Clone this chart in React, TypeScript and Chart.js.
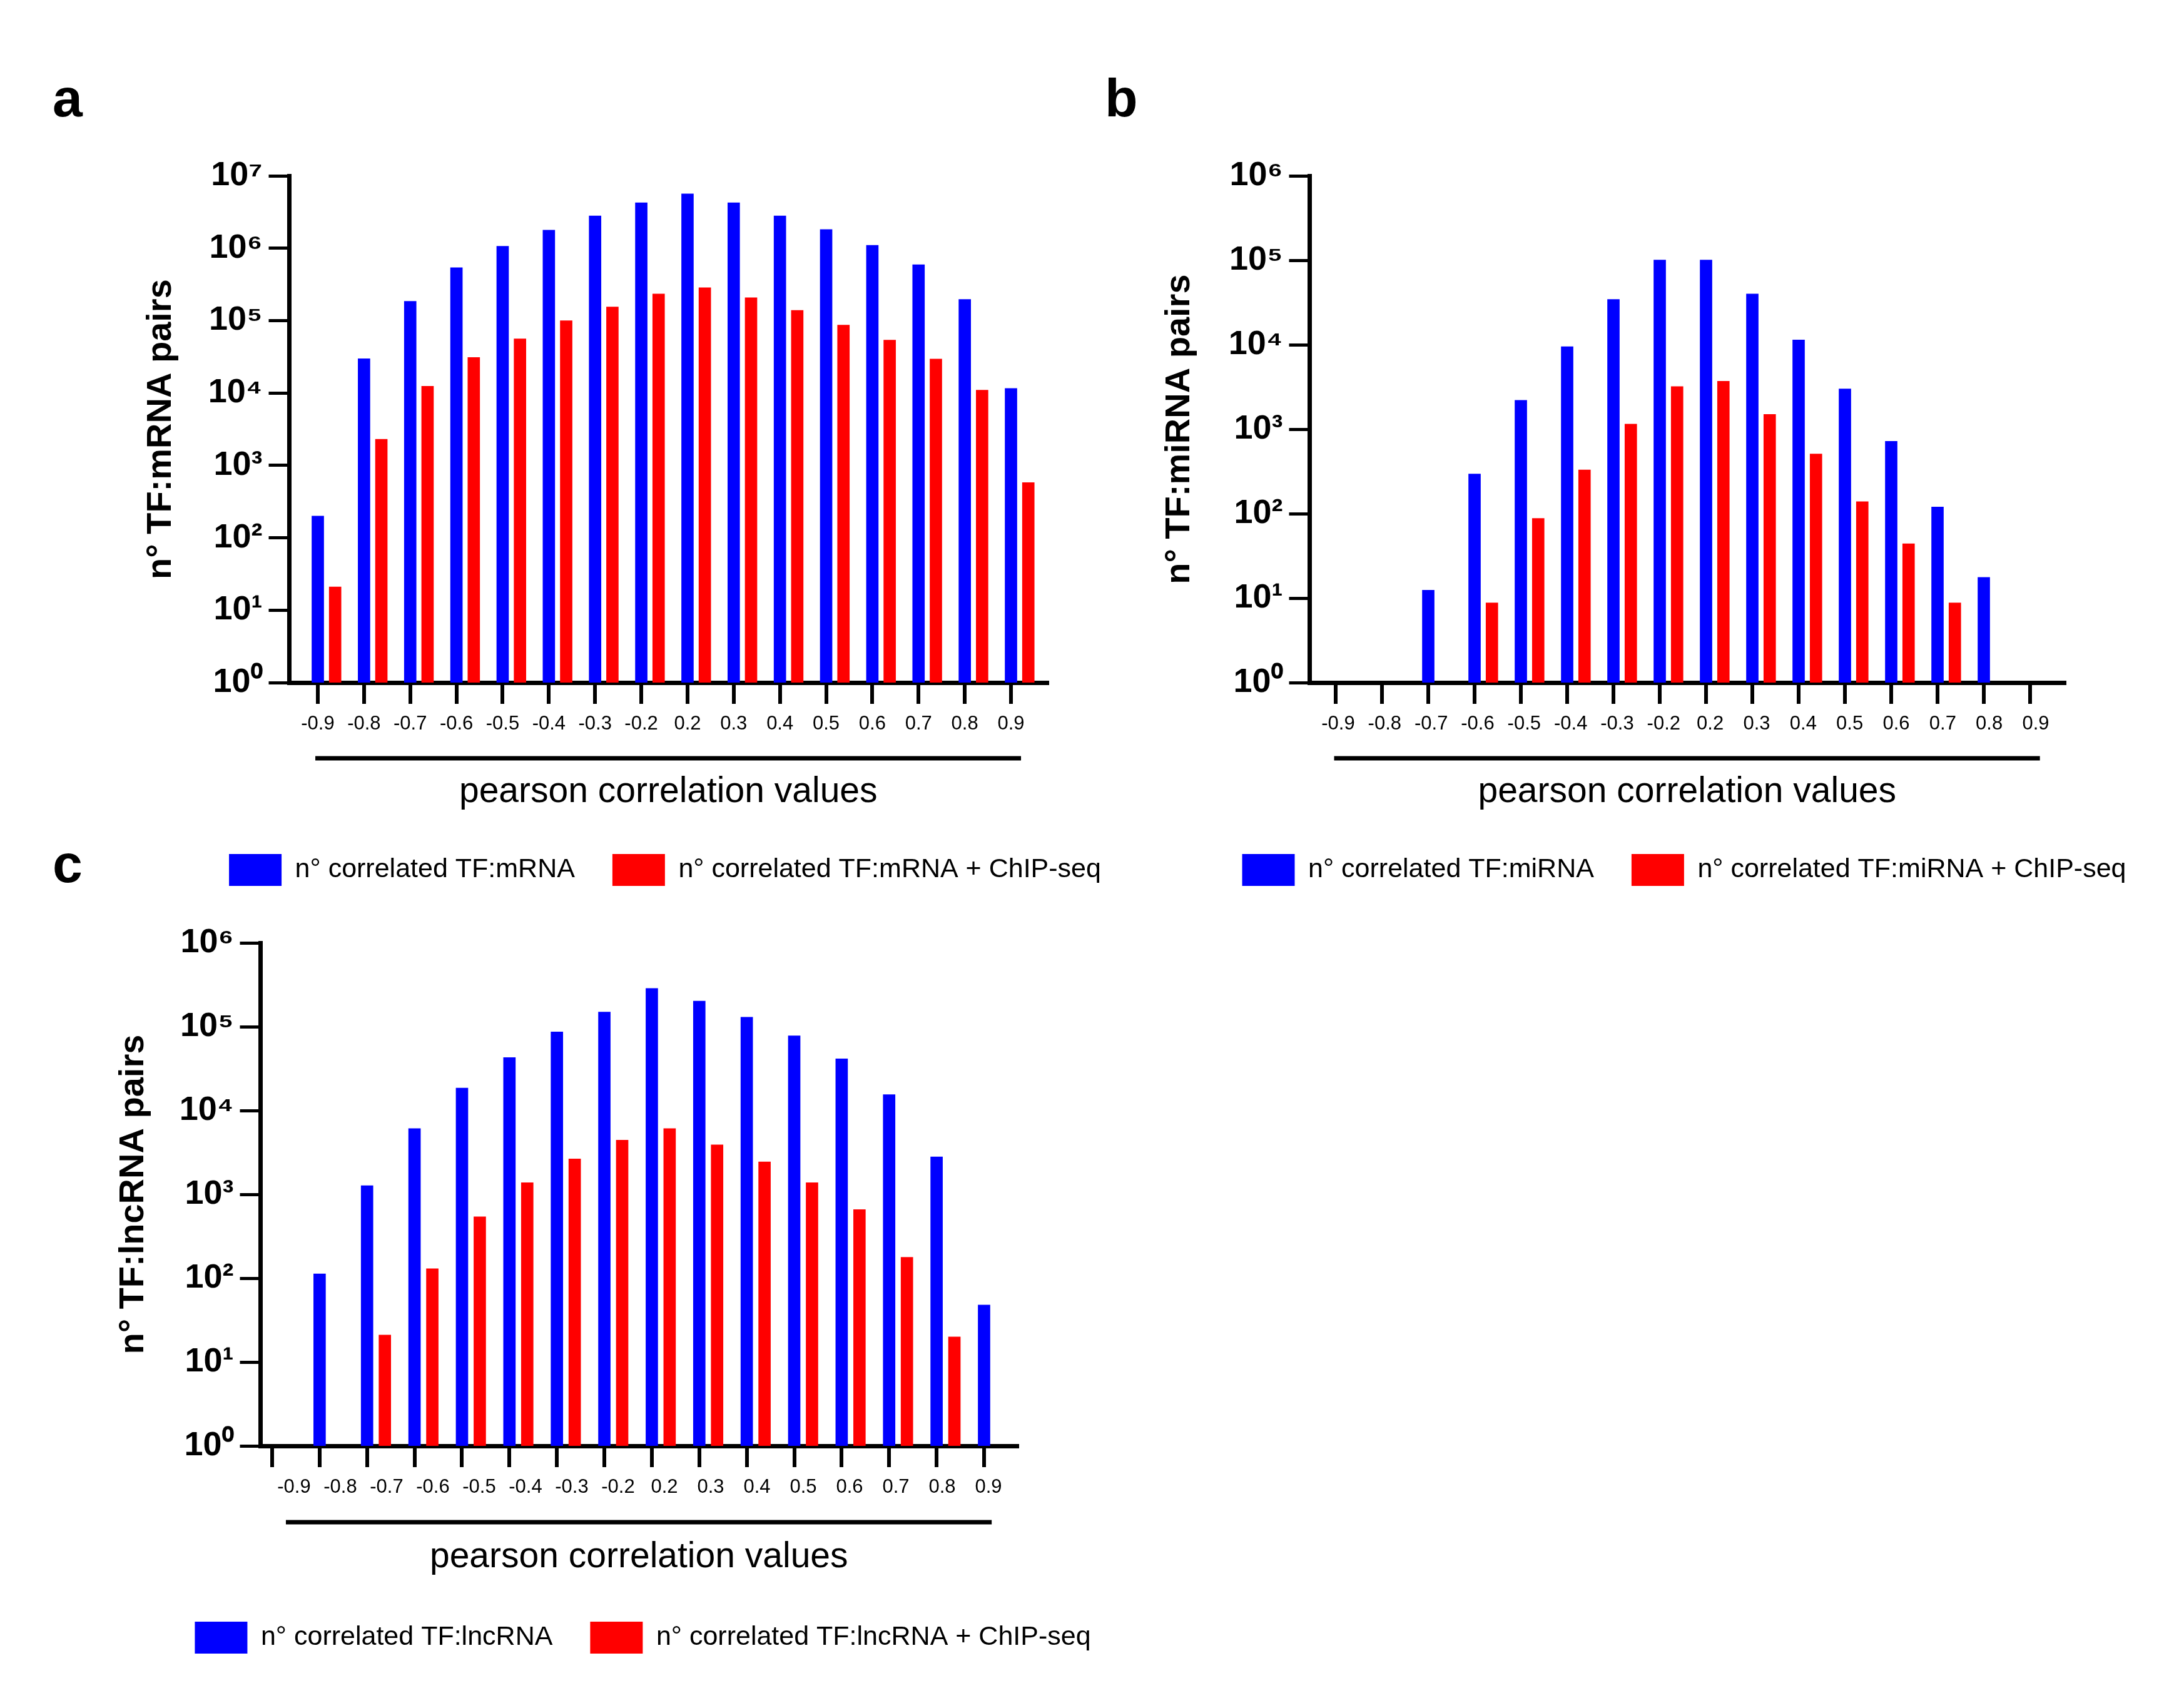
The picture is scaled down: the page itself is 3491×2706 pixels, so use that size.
import React, { useEffect, useRef } from 'react';
import { Chart, registerables } from 'chart.js';

Chart.register(...registerables);

// ---------- data ----------
const X_LABELS = ['-0.9', '-0.8', '-0.7', '-0.6', '-0.5', '-0.4', '-0.3', '-0.2', '0.2', '0.3', '0.4', '0.5', '0.6', '0.7', '0.8', '0.9'];

const A_BLUE = [200, 29900, 185000, 540000, 1070000, 1780000, 2800000, 4250000, 5650000, 4250000, 2800000, 1820000, 1100000, 595000, 197000, 11600];
const A_RED = [21, 2300, 12400, 31000, 56000, 100000, 155000, 234000, 285000, 208000, 139000, 87000, 54000, 29500, 11000, 580];

const B_BLUE = [null, null, 12.4, 295, 2200, 9500, 34500, 101000, 101000, 40000, 11400, 3000, 720, 120, 17.6, null];
const B_RED = [null, null, null, 8.8, 88, 330, 1150, 3200, 3700, 1500, 510, 139, 44, 8.8, null, null];

const C_BLUE = [null, 113, 1270, 6100, 18600, 43000, 87000, 150000, 287000, 203000, 130000, 78000, 41500, 15500, 2800, 48];
const C_RED = [null, null, 21, 130, 540, 1380, 2650, 4450, 6100, 3900, 2440, 1380, 660, 178, 20, null];

const A_Y_TICKS = [1, 10, 100, 1000, 10000, 100000, 1000000, 10000000];
const BC_Y_TICKS = [1, 10, 100, 1000, 10000, 100000, 1000000];

const X_TITLE = 'pearson correlation values';

// ---------- style ----------
const FONT = "'Liberation Sans', Arial, Helvetica, sans-serif";
const BLUE = '#0000FF';
const RED = '#FF0000';
const BLACK = '#000000';
const RED_SHIFT = 0.375;
const SUP: Record<string, string> = { '0': '\u2070', '1': '\u00B9', '2': '\u00B2', '3': '\u00B3', '4': '\u2074', '5': '\u2075', '6': '\u2076', '7': '\u2077', '8': '\u2078', '9': '\u2079' };

type PanelCfg = {
  letter: string; left: number; top: number; width: number; height: number;
  yTitle: string; blue: (number | null)[]; red: (number | null)[];
  blueLabel: string; redLabel: string; yTicks: number[];
  yAxisWidth: number; yTitlePad: number; rightWidth: number;
  xMin: number; xMax: number; lMin: number; lMax: number;
  titlePad: { top: number; bottom: number };
  xlHeight: number; xlTitlePadBottom: number;
  lineFrom: number; lineTo: number; lineOffset: number;
};

const PANELS: PanelCfg[] = [
  {
    letter: 'a', left: 84, top: 100, width: 1958, height: 1326,
    yTitle: 'n° TF:mRNA pairs', blue: A_BLUE, red: A_RED,
    blueLabel: 'n° correlated TF:mRNA', redLabel: 'n° correlated TF:mRNA + ChIP-seq', yTicks: A_Y_TICKS,
    yAxisWidth: 378.5, yTitlePad: 140, rightWidth: 368,
    xMin: -0.616, xMax: 15.785, lMin: -0.616, lMax: 15.785,
    titlePad: { top: 11, bottom: 67 }, xlHeight: 180, xlTitlePadBottom: 5,
    lineFrom: -0.054, lineTo: 15.217, lineOffset: 121,
  },
  {
    letter: 'b', left: 1766, top: 100, width: 1852, height: 1326,
    yTitle: 'n° TF:miRNA pairs', blue: B_BLUE, red: B_RED,
    blueLabel: 'n° correlated TF:miRNA', redLabel: 'n° correlated TF:miRNA + ChIP-seq', yTicks: BC_Y_TICKS,
    yAxisWidth: 327.5, yTitlePad: 86, rightWidth: 318,
    xMin: -0.561, xMax: 15.743, lMin: -0.612, lMax: 15.619,
    titlePad: { top: 11, bottom: 67 }, xlHeight: 180, xlTitlePadBottom: 5,
    lineFrom: -0.087, lineTo: 15.09, lineOffset: 121,
  },
  {
    letter: 'c', left: 84, top: 1330, width: 1887, height: 1323,
    yTitle: 'n° TF:lncRNA pairs', blue: C_BLUE, red: C_RED,
    blueLabel: 'n° correlated TF:lncRNA', redLabel: 'n° correlated TF:lncRNA + ChIP-seq', yTicks: BC_Y_TICKS,
    yAxisWidth: 332.5, yTitlePad: 96, rightWidth: 345,
    xMin: -0.244, xMax: 15.699, lMin: -0.723, lMax: 15.622,
    titlePad: { top: 5, bottom: 69 }, xlHeight: 187, xlTitlePadBottom: 9,
    lineFrom: -0.176, lineTo: 15.07, lineOffset: 122,
  },
];

const underlinePlugin = {
  id: 'underline',
  afterDraw(chart: any, _args: any, opts: any) {
    const xl = chart.scales.xl;
    const x = chart.scales.x;
    if (!xl || !x) return;
    const ctx = chart.ctx;
    const x1 = xl.getPixelForValue(opts.from);
    const x2 = xl.getPixelForValue(opts.to);
    const y = x.top + opts.offset;
    ctx.save();
    ctx.strokeStyle = BLACK;
    ctx.lineWidth = 7;
    ctx.beginPath();
    ctx.moveTo(x1, y);
    ctx.lineTo(x2, y);
    ctx.stroke();
    ctx.restore();
  },
};

function toPoints(values: (number | null)[], shift: number) {
  return values.flatMap((v, i) => (v == null ? [] : [{ x: i + shift, y: v }]));
}

function supExp(v: number) {
  const e = String(Math.round(Math.log10(v)));
  return '10' + e.split('').map((d) => SUP[d] || d).join('');
}

function buildConfig(p: PanelCfg): any {
  const labelTicks = X_LABELS.map((_, i) => ({ value: i }));
  return {
    type: 'bar',
    data: {
      datasets: [
        { label: p.blueLabel, data: toPoints(p.blue, 0), backgroundColor: BLUE, borderWidth: 0, grouped: false, barThickness: 19 },
        { label: p.redLabel, data: toPoints(p.red, RED_SHIFT), backgroundColor: RED, borderWidth: 0, grouped: false, barThickness: 19 },
      ],
    },
    options: {
      responsive: true,
      maintainAspectRatio: false,
      animation: false,
      events: [],
      layout: { padding: 0 },
      font: { family: FONT },
      plugins: {
        title: {
          display: true, text: p.letter, align: 'start', color: BLACK,
          font: { family: FONT, size: 86, weight: 'bold', lineHeight: 1.2 },
          padding: p.titlePad,
        },
        legend: {
          display: true, position: 'bottom', align: 'center',
          labels: { boxWidth: 84, boxHeight: 51, padding: 60, color: BLACK, font: { family: FONT, size: 43 } },
        },
        tooltip: { enabled: false },
        underline: { from: p.lineFrom, to: p.lineTo, offset: p.lineOffset },
      },
      scales: {
        y: {
          type: 'logarithmic', position: 'left', min: p.yTicks[0], max: p.yTicks[p.yTicks.length - 1], z: 1,
          afterBuildTicks: (s: any) => { s.ticks = p.yTicks.map((v) => ({ value: v })); },
          afterFit: (s: any) => { s.width = p.yAxisWidth; },
          ticks: { color: BLACK, padding: 10, font: { family: FONT, size: 54, weight: 'bold' }, callback: (v: any) => supExp(Number(v)) },
          grid: { display: true, drawOnChartArea: false, drawTicks: true, tickLength: 33, tickWidth: 5, tickColor: BLACK, color: BLACK },
          border: { display: true, width: 7, color: BLACK },
          title: { display: true, text: p.yTitle, color: BLACK, font: { family: FONT, size: 56, weight: 'bold', lineHeight: 1.2 }, padding: { top: p.yTitlePad, bottom: 0 } },
        },
        x: {
          type: 'linear', position: 'bottom', min: p.xMin, max: p.xMax, weight: 0, z: 1, offset: false,
          afterBuildTicks: (s: any) => { s.ticks = X_LABELS.map((_, i) => ({ value: i })); },
          afterFit: (s: any) => { s.height = 34; },
          ticks: { display: false },
          grid: { display: true, offset: false, drawOnChartArea: false, drawTicks: true, tickLength: 34, tickWidth: 6, lineWidth: 6, tickColor: BLACK, color: BLACK },
          border: { display: true, width: 7, color: BLACK },
        },
        xl: {
          type: 'linear', position: 'bottom', min: p.lMin, max: p.lMax, weight: 1, offset: false,
          afterBuildTicks: (s: any) => { s.ticks = labelTicks.map((t) => ({ ...t })); },
          afterFit: (s: any) => { s.height = p.xlHeight; },
          ticks: {
            display: true, autoSkip: false, maxRotation: 0, minRotation: 0, padding: 14, color: BLACK,
            font: { family: FONT, size: 31 },
            callback: (v: any) => X_LABELS[Math.round(Number(v))] ?? '',
          },
          grid: { display: false, drawTicks: false, offset: false },
          border: { display: false },
          title: { display: true, text: X_TITLE, color: BLACK, font: { family: FONT, size: 57, lineHeight: 1.2 }, padding: { top: 0, bottom: p.xlTitlePadBottom } },
        },
        yr: {
          type: 'linear', position: 'right', display: true,
          afterFit: (s: any) => { s.width = p.rightWidth; },
          ticks: { display: false },
          grid: { display: false, drawTicks: false },
          border: { display: false },
        },
      },
    },
    plugins: [underlinePlugin],
  };
}

function Panel({ cfg }: { cfg: PanelCfg }) {
  const ref = useRef<HTMLCanvasElement>(null);
  useEffect(() => {
    if (!ref.current) return;
    const chart = new Chart(ref.current, buildConfig(cfg));
    return () => chart.destroy();
  }, [cfg]);
  return (
    <div style={{ position: 'absolute', left: cfg.left, top: cfg.top, width: cfg.width, height: cfg.height }}>
      <canvas ref={ref} />
    </div>
  );
}

export default function App() {
  return (
    <div style={{ position: 'absolute', left: 0, top: 0, width: 3491, height: 2706, overflow: 'hidden', background: '#ffffff' }}>
      {PANELS.map((p) => (
        <Panel key={p.letter} cfg={p} />
      ))}
    </div>
  );
}
